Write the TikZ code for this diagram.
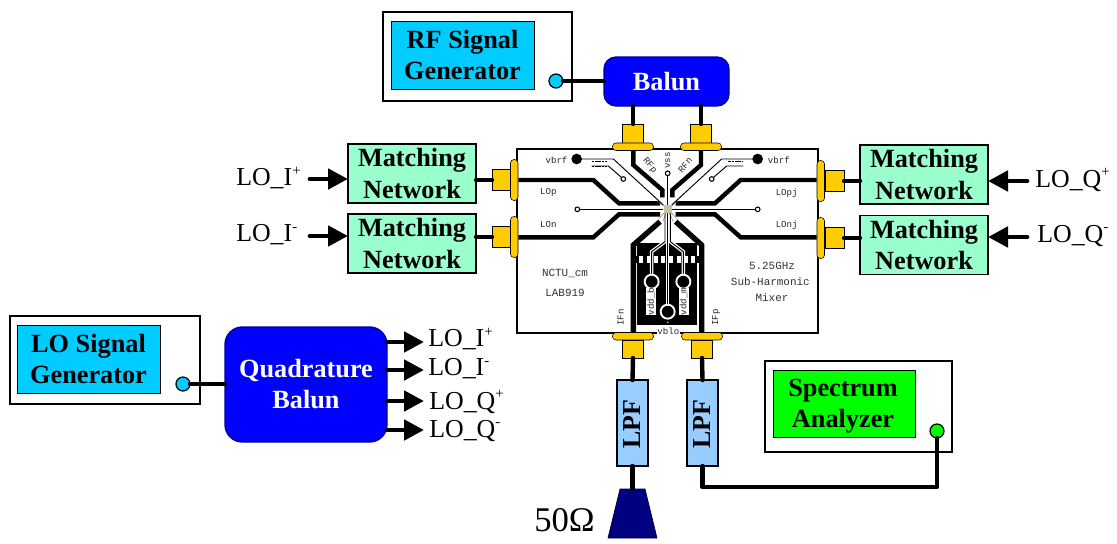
\documentclass[tikz,border=0pt]{standalone}
\usepackage{fontspec}
\setmainfont{Liberation Serif}
\newfontfamily\chipfont{Liberation Mono}
\usetikzlibrary{arrows.meta,calc}
\definecolor{sigcyan}{HTML}{00CCFF}
\definecolor{matchgreen}{HTML}{99FFCC}
\definecolor{balblue}{HTML}{0000FF}
\definecolor{lpfblue}{HTML}{99CCFF}
\definecolor{conyellow}{HTML}{FFCC00}
\definecolor{padtan}{HTML}{C8C0A0}
\definecolor{loadnavy}{HTML}{000080}
\newcommand{\supr}[1]{\raisebox{0.42em}{\fontsize{11}{11}\selectfont #1}}
\tikzset{
  x=0.75pt,y=-0.75pt,
  sz/.style 2 args={minimum width=#1*0.75pt,minimum height=#2*0.75pt,inner sep=0pt,outer sep=0pt},
  bt/.style={font=\fontsize{19.7}{23.3}\selectfont\bfseries,align=center},
  rt/.style={font=\fontsize{19.4}{23}\selectfont,inner sep=0pt},
  instr/.style={draw=black,line width=1.5pt,fill=white},
  screen/.style={draw=black,line width=0.5pt,bt},
  port/.style={circle,draw=black,line width=0.9pt,minimum size=10.5pt,inner sep=0pt,outer sep=0pt},
  wire/.style={line width=3.3pt,black,line cap=round},
  arr/.style={line width=3.6pt,black,line cap=round,-{Triangle[length=15pt,width=15pt,sharp]}},
  matchbox/.style={draw=black,line width=1pt,fill=matchgreen,bt,sz={128}{59}},
  balunbox/.style={draw=black!40!balblue,line width=1pt,fill=balblue,rounded corners=9pt,text=white,bt},
  lpfbox/.style={draw=black,line width=1pt,fill=lpfblue,sz={31}{86}},
  stem/.style={draw=black,line width=0.4pt,fill=conyellow,inner sep=0pt,outer sep=0pt},
  pill/.style={draw=black,line width=0.4pt,fill=conyellow,rounded corners=2.6pt,inner sep=0pt,outer sep=0pt},
  rfline/.style={line width=3.3pt,black,line join=miter},
  thinline/.style={line width=0.7pt,black},
  casing/.style={line width=2.6pt,white},
  chiptxt/.style={font=\chipfont\fontsize{8.2}{10}\selectfont,text=black!80,inner sep=0pt},
  chipsmall/.style={font=\chipfont\fontsize{6.8}{8}\selectfont,text=black!85,inner sep=0pt},
}
\begin{document}
\begin{tikzpicture}
\useasboundingbox (0,0) rectangle (1117,543);

% chip board
\node[draw=black,line width=0.9pt,fill=white,sz={301}{184},anchor=north west] (board) at (517,149) {};
\begin{scope}[shift={(500,110)},scale=0.33333]
  % lower black block
  \fill[black] (412,400) rectangle (592,645);
  \fill[black] (392,437) rectangle (612,460);
  \foreach \cx in {402,424,446,468,490,514,536,558,580,602}
    \fill[white] (\cx-6,438) rectangle (\cx+6,459);
  % thick traces
  \draw[rfline] (55,210) -- (280,210) -- (357,280) -- (480,280);
  \draw[rfline] (55,382) -- (280,382) -- (357,313) -- (480,313);
  \draw[rfline] (950,210) -- (722,210) -- (645,280) -- (527,280);
  \draw[rfline] (950,382) -- (722,382) -- (645,313) -- (527,313);
  \draw[rfline] (400,120) -- (400,165) -- (487,240) -- (487,262);
  \draw[rfline] (603,120) -- (603,165) -- (517,240) -- (517,262);
  \draw[rfline,line width=4pt] (400,668) -- (400,405) -- (480,335);
  \draw[rfline,line width=4pt] (605,668) -- (605,405) -- (527,335);
  % thin top traces
  \draw[thinline] (230,147) -- (340,147) -- (490,285);
  \draw[thinline] (773,147) -- (665,147) -- (515,285);
  \draw[thinline,dash pattern=on 2pt off 0.5pt] (275,153) -- (320,153);
  \draw[thinline,dash pattern=on 2pt off 0.5pt] (275,168) -- (320,168);
  \draw[thinline,dash pattern=on 2pt off 0.5pt] (685,153) -- (730,153);
  \draw[thinline] (275,168) -- (325,168) -- (370,207);
  \draw[thinline] (730,168) -- (680,168) -- (635,207);
  \draw[thinline] (232,298) -- (490,298);
  \draw[thinline] (773,298) -- (515,298);
  \draw[thinline] (503,190) -- (503,285);
  \foreach \a/\b in {470/272,478/325,488/335,520/335,530/325,536/272}
    \draw[line width=0.3pt,black!60] (503,297) -- (\a,\b);
  \fill[black] (230,147) circle[radius=16];
  \fill[black] (773,147) circle[radius=16];
  \foreach \p in {(370,207),(635,207),(232,298),(773,298),(503,190)}
    \draw[line width=0.8pt,black,fill=white] \p circle[radius=7];
  % lower thin traces with white casing
  \draw[casing] (495,340) -- (495,395) -- (455,425) -- (455,495);
  \draw[casing] (511,340) -- (511,395) -- (550,425) -- (550,495);
  \draw[casing] (503,340) -- (503,585);
  \draw[thinline] (495,310) -- (495,395) -- (455,425) -- (455,495);
  \draw[thinline] (511,310) -- (511,395) -- (550,425) -- (550,495);
  \draw[thinline] (503,310) -- (503,585);
  \draw[line width=1.4pt,white,fill=black] (455,515) circle[radius=21];
  \draw[line width=1.4pt,white,fill=black] (550,515) circle[radius=21];
  \draw[line width=1.4pt,white,fill=black] (503,605) circle[radius=21];
  \fill[white] (503,637) circle[radius=2.5];
  \fill[white] (438,535) rectangle (468,615);
  \fill[white] (536,535) rectangle (567,615);
  \fill[white] (470,645) rectangle (540,672);
  \fill[padtan] (492,286) rectangle (516,310);
  % chip labels
  \node[chipsmall,anchor=east] (l1) at (203,150) {vbrf};
  \node[chipsmall,anchor=west] (l2) at (803,150) {vbrf};
  \node[chipsmall] (l3) at (145,248) {LOp};
  \node[chipsmall] (l4) at (145,345) {LOn};
  \node[chipsmall] (l5) at (860,248) {LOpj};
  \node[chipsmall] (l6) at (860,345) {LOnj};
  \node[chipsmall,rotate=-50] (l7) at (449,167) {RFp};
  \node[chipsmall,rotate=50] (l8) at (555,165) {RFn};
  \node[chipsmall,rotate=90] (l9) at (503,151) {vss};
  \node[chiptxt] (l10) at (195,490) {NCTU\_cm};
  \node[chiptxt] (l11) at (195,548) {LAB919};
  \node[chiptxt] (l12) at (816,468) {5.25GHz};
  \node[chiptxt] (l13) at (811,516) {Sub-Harmonic};
  \node[chiptxt] (l14) at (816,564) {Mixer};
  \node[chipsmall,rotate=90] (l15) at (362,622) {IFn};
  \node[chipsmall,rotate=90] (l16) at (648,622) {IFp};
  \node[chipsmall] (l17) at (505,664) {vblo};
  \node[chipsmall,rotate=90] (l18) at (453,575) {vdd\_b};
  \node[chipsmall,rotate=90] (l19) at (551,575) {vdd\_m};
\end{scope}

% connectors: top
\node[stem,sz={21}{19},anchor=south] (ct1s) at (633,143) {};
\node[pill,sz={41}{7.5},anchor=north] (ct1) at (633,143) {};
\node[stem,sz={21}{19},anchor=south] (ct2s) at (701,143) {};
\node[pill,sz={41}{7.5},anchor=north] (ct2) at (701,143) {};
% bottom
\node[pill,sz={41}{7.5},anchor=south] (cb1) at (633,340) {};
\node[stem,sz={21}{18},anchor=north] (cb1s) at (633,340) {};
\node[pill,sz={41}{7.5},anchor=south] (cb2) at (702,340) {};
\node[stem,sz={21}{18},anchor=north] (cb2s) at (702,340) {};
% left
\node[stem,sz={19}{21},anchor=east] (cl1s) at (511,180) {};
\node[pill,sz={7.5}{41},anchor=east] (cl1) at (518,180) {};
\node[stem,sz={19}{21},anchor=east] (cl2s) at (511,237) {};
\node[pill,sz={7.5}{41},anchor=east] (cl2) at (518,237) {};
% right
\node[stem,sz={19}{21},anchor=west] (cr1s) at (825,181) {};
\node[pill,sz={7.5}{41},anchor=west] (cr1) at (817,181) {};
\node[stem,sz={19}{21},anchor=west] (cr2s) at (825,238) {};
\node[pill,sz={7.5}{41},anchor=west] (cr2) at (817,238) {};

% RF generator and balun
\node[instr,sz={189}{89},anchor=north west] (rfgen) at (383,12) {};
\node[screen,fill=sigcyan,sz={143}{68},anchor=north west] (rfscreen) at (391,21) {RF Signal\\Generator};
\node[port,fill=sigcyan] (rfport) at (556,81) {};
\node[balunbox,sz={125}{49}] (balun) at (666.5,81.5) {Balun};
\draw[wire] (rfport) -- (balun.west |- rfport);
\draw[wire] (ct1s.north) -- (ct1s.north |- balun.south);
\draw[wire] (ct2s.north) -- (ct2s.north |- balun.south);

% matching networks
\node[matchbox] (mi1) at (412,173.5) {Matching\\Network};
\node[matchbox] (mi2) at (412,243.5) {Matching\\Network};
\node[matchbox] (mq1) at (924,174.5) {Matching\\Network};
\node[matchbox] (mq2) at (924,245) {Matching\\Network};
\draw[wire] (mi1.east |- cl1s) -- (cl1s.west);
\draw[wire] (mi2.east |- cl2s) -- (cl2s.west);
\draw[wire] (mq1.west |- cr1s) -- (cr1s.east);
\draw[wire] (mq2.west |- cr2s) -- (cr2s.east);

\node[rt,anchor=west] (tli1) at (236,178) {LO\_I\supr{+}};
\node[rt,anchor=west] (tli2) at (236,235) {LO\_I\supr{-}};
\node[rt,anchor=west] (tlq1) at (1035,180) {LO\_Q\supr{+}};
\node[rt,anchor=west] (tlq2) at (1037,236) {LO\_Q\supr{-}};
\coordinate (ai1) at (310,179);
\coordinate (ai2) at (310,236);
\coordinate (aq1) at (1027,181);
\coordinate (aq2) at (1027,237);
\draw[arr] (ai1) -- (mi1.west |- ai1);
\draw[arr] (ai2) -- (mi2.west |- ai2);
\draw[arr] (aq1) -- (mq1.east |- aq1);
\draw[arr] (aq2) -- (mq2.east |- aq2);

% LO generator and quadrature balun
\node[instr,sz={190}{88},anchor=north west] (logen) at (10,316) {};
\node[screen,fill=sigcyan,sz={143}{68},anchor=north west] (loscreen) at (17,325) {LO Signal\\Generator};
\node[port,fill=sigcyan] (loport) at (183,384) {};
\node[balunbox,sz={162}{115},rounded corners=13pt] (qbal) at (306,384.5) {Quadrature\\Balun};
\draw[wire] (loport) -- (qbal.west |- loport);
\coordinate (oa) at (424,342);
\coordinate (ob) at (424,370);
\coordinate (oc) at (424,401);
\coordinate (od) at (424,430);
\draw[arr] (qbal.east |- oa) -- (oa);
\draw[arr] (qbal.east |- ob) -- (ob);
\draw[arr] (qbal.east |- oc) -- (oc);
\draw[arr] (qbal.east |- od) -- (od);
\node[rt,anchor=west] (ta) at (428,339) {LO\_I\supr{+}};
\node[rt,anchor=west] (tb) at (428,369) {LO\_I\supr{-}};
\node[rt,anchor=west] (tc) at (429,402) {LO\_Q\supr{+}};
\node[rt,anchor=west] (td) at (429,431) {LO\_Q\supr{-}};

% LPFs
\node[lpfbox] (lpf1) at (632.5,423) {};
\node[lpfbox] (lpf2) at (702.5,423) {};
\node[rotate=90,font=\fontsize{19.4}{23}\selectfont\bfseries,inner sep=0pt] (lpf1t) at (632.5,424) {LPF};
\node[rotate=90,font=\fontsize{19.4}{23}\selectfont\bfseries,inner sep=0pt] (lpf2t) at (702.5,424) {LPF};
\draw[wire] (cb1s.south) -- (lpf1.north);
\draw[wire] (cb2s.south) -- (lpf2.north);

% 50 ohm load
\coordinate (loadtop) at (632.5,489);
\fill[loadnavy,draw=black!60!loadnavy,line width=0.5pt] (620,489) -- (645,489) -- (657,538) -- (608,538) -- cycle;
\draw[wire] (lpf1.south) -- (loadtop);
\node[font=\fontsize{26}{30}\selectfont,inner sep=0pt,anchor=east] (ohm) at (595,520) {50Ω};

% spectrum analyzer
\node[instr,sz={187}{91},anchor=north west] (spec) at (765,361) {};
\node[screen,fill=green,sz={142}{67},anchor=north west] (specscreen) at (773,370) {};
\node[bt,inner sep=0pt] (speclabel) at (843,406) {Spectrum\\Analyzer};
\node[port,fill=green] (specport) at (937,431) {};
\draw[wire,line join=round] (lpf2.south) -- ++(0,21) -| (specport.south);
\end{tikzpicture}
\end{document}
